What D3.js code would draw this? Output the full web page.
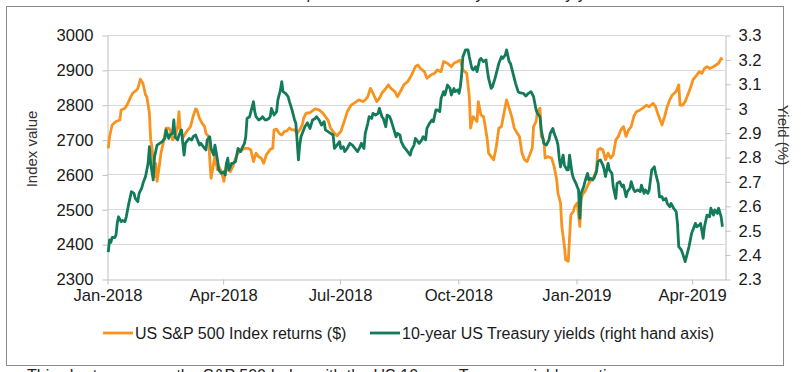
<!DOCTYPE html>
<html>
<head>
<meta charset="utf-8">
<script src="https://cdn.jsdelivr.net/npm/d3@7"></script>
<style>
body { margin: 0; background: #fff; }
svg { display: block; font-family: "Liberation Sans", Arial, sans-serif; }
.grid line { stroke: #d9d9d9; stroke-width: 1; }
.axis path, .axis line { stroke: #bfbfbf; }
.axis text { fill: #1a1a1a; font-size: 16.6px; }
</style>
</head>
<body>
<svg width="801" height="372"></svg>
<script>

// S&P 500 index level
var spData = [
["2018-01-02",2675],["2018-01-03",2709],["2018-01-05",2742],["2018-01-08",2752],["2018-01-11",2756],
["2018-01-12",2785],["2018-01-15",2790],["2018-01-17",2802],["2018-01-19",2819],["2018-01-21",2833],
["2018-01-24",2842],["2018-01-25",2847],["2018-01-27",2873],["2018-01-29",2861],["2018-01-31",2828],
["2018-02-01",2823],["2018-02-03",2776],["2018-02-04",2699],["2018-02-05",2680],["2018-02-07",2594],
["2018-02-08",2632],["2018-02-09",2580],["2018-02-11",2632],["2018-02-12",2661],["2018-02-14",2694],
["2018-02-16",2733],["2018-02-18",2733],["2018-02-19",2728],["2018-02-21",2699],["2018-02-23",2709],
["2018-02-25",2737],["2018-02-26",2780],["2018-02-27",2728],["2018-03-01",2704],["2018-03-03",2718],
["2018-03-05",2728],["2018-03-07",2737],["2018-03-09",2766],["2018-03-11",2788],["2018-03-12",2785],
["2018-03-14",2761],["2018-03-16",2747],["2018-03-18",2737],["2018-03-19",2718],["2018-03-21",2709],
["2018-03-22",2642],["2018-03-23",2589],["2018-03-25",2632],["2018-03-26",2651],["2018-03-28",2613],
["2018-03-29",2623],["2018-03-31",2608],["2018-04-02",2580],["2018-04-04",2632],["2018-04-05",2613],
["2018-04-07",2608],["2018-04-09",2623],["2018-04-11",2647],["2018-04-13",2661],["2018-04-16",2670],
["2018-04-18",2675],["2018-04-21",2675],["2018-04-23",2670],["2018-04-25",2637],["2018-04-27",2661],
["2018-04-29",2651],["2018-05-01",2647],["2018-05-03",2632],["2018-05-05",2656],["2018-05-07",2666],
["2018-05-08",2672],["2018-05-10",2675],["2018-05-11",2728],["2018-05-13",2730],["2018-05-15",2718],
["2018-05-17",2713],["2018-05-19",2723],["2018-05-21",2725],["2018-05-23",2733],["2018-05-25",2728],
["2018-05-27",2728],["2018-05-29",2718],["2018-05-31",2728],["2018-06-02",2742],["2018-06-03",2761],
["2018-06-05",2776],["2018-06-08",2777],["2018-06-12",2788],["2018-06-15",2785],["2018-06-18",2776],
["2018-06-22",2756],["2018-06-24",2733],["2018-06-27",2718],["2018-06-29",2711],["2018-07-02",2723],
["2018-07-05",2756],["2018-07-07",2780],["2018-07-10",2799],["2018-07-13",2806],["2018-07-16",2814],
["2018-07-19",2809],["2018-07-21",2814],["2018-07-23",2823],["2018-07-25",2847],["2018-07-27",2833],
["2018-07-30",2809],["2018-08-01",2818],["2018-08-03",2833],["2018-08-06",2847],["2018-08-08",2857],
["2018-08-10",2847],["2018-08-13",2838],["2018-08-15",2823],["2018-08-18",2842],["2018-08-20",2857],
["2018-08-23",2866],["2018-08-26",2885],["2018-08-29",2909],["2018-08-31",2914],["2018-09-02",2904],
["2018-09-05",2895],["2018-09-07",2876],["2018-09-10",2885],["2018-09-13",2890],["2018-09-15",2900],
["2018-09-18",2895],["2018-09-20",2924],["2018-09-23",2919],["2018-09-26",2909],["2018-09-28",2919],
["2018-10-01",2924],["2018-10-03",2928],["2018-10-05",2900],["2018-10-08",2890],["2018-10-10",2823],
["2018-10-11",2733],["2018-10-13",2766],["2018-10-14",2761],["2018-10-16",2752],["2018-10-17",2809],
["2018-10-19",2771],["2018-10-21",2766],["2018-10-22",2747],["2018-10-24",2699],["2018-10-25",2661],
["2018-10-27",2651],["2018-10-29",2642],["2018-10-31",2680],["2018-11-02",2733],["2018-11-04",2737],
["2018-11-06",2776],["2018-11-08",2814],["2018-11-10",2790],["2018-11-12",2766],["2018-11-14",2733],
["2018-11-16",2720],["2018-11-18",2709],["2018-11-20",2661],["2018-11-22",2642],["2018-11-24",2637],
["2018-11-26",2656],["2018-11-28",2675],["2018-11-29",2737],["2018-12-01",2752],["2018-12-02",2780],
["2018-12-04",2790],["2018-12-05",2709],["2018-12-07",2699],["2018-12-08",2647],["2018-12-10",2651],
["2018-12-13",2647],["2018-12-15",2623],["2018-12-17",2585],["2018-12-18",2546],["2018-12-20",2518],
["2018-12-21",2451],["2018-12-23",2394],["2018-12-24",2355],["2018-12-26",2351],["2018-12-28",2484],
["2018-12-30",2494],["2018-12-31",2508],["2019-01-02",2518],["2019-01-04",2451],["2019-01-05",2527],
["2019-01-06",2542],["2019-01-08",2551],["2019-01-11",2575],["2019-01-13",2585],["2019-01-15",2594],
["2019-01-17",2613],["2019-01-18",2670],["2019-01-20",2675],["2019-01-22",2670],["2019-01-24",2642],
["2019-01-26",2661],["2019-01-28",2647],["2019-01-30",2656],["2019-02-01",2699],["2019-02-03",2709],
["2019-02-05",2728],["2019-02-07",2737],["2019-02-09",2709],["2019-02-11",2728],["2019-02-13",2737],
["2019-02-15",2766],["2019-02-17",2780],["2019-02-20",2785],["2019-02-22",2790],["2019-02-25",2799],
["2019-02-27",2794],["2019-03-02",2804],["2019-03-04",2794],["2019-03-06",2771],["2019-03-08",2752],
["2019-03-09",2742],["2019-03-11",2766],["2019-03-13",2794],["2019-03-15",2814],["2019-03-17",2828],
["2019-03-20",2838],["2019-03-22",2857],["2019-03-23",2799],["2019-03-25",2799],["2019-03-27",2809],
["2019-03-29",2828],["2019-03-31",2847],["2019-04-02",2871],["2019-04-05",2885],["2019-04-07",2895],
["2019-04-09",2890],["2019-04-11",2904],["2019-04-13",2909],["2019-04-15",2904],["2019-04-18",2909],
["2019-04-20",2914],["2019-04-22",2919],["2019-04-24",2933],["2019-04-25",2928]
];

// 10-year treasury yield (%), right hand axis
var tyData = [
["2018-01-02",2.41],["2018-01-03",2.46],["2018-01-04",2.45],["2018-01-05",2.47],["2018-01-07",2.47],
["2018-01-08",2.48],["2018-01-09",2.53],["2018-01-10",2.555],["2018-01-12",2.535],["2018-01-13",2.54],
["2018-01-15",2.535],["2018-01-16",2.555],["2018-01-18",2.61],["2018-01-20",2.658],["2018-01-22",2.651],
["2018-01-23",2.63],["2018-01-25",2.617],["2018-01-26",2.651],["2018-01-28",2.672],["2018-01-29",2.692],
["2018-01-31",2.72],["2018-02-02",2.774],["2018-02-03",2.842],["2018-02-04",2.774],["2018-02-06",2.706],
["2018-02-07",2.801],["2018-02-09",2.849],["2018-02-11",2.856],["2018-02-13",2.863],["2018-02-15",2.876],
["2018-02-16",2.911],["2018-02-18",2.876],["2018-02-19",2.89],["2018-02-21",2.897],["2018-02-22",2.952],
["2018-02-23",2.883],["2018-02-25",2.87],["2018-02-26",2.89],["2018-02-28",2.911],["2018-03-01",2.856],
["2018-03-02",2.808],["2018-03-03",2.856],["2018-03-05",2.87],["2018-03-06",2.876],["2018-03-08",2.87],
["2018-03-09",2.883],["2018-03-11",2.89],["2018-03-12",2.876],["2018-03-14",2.849],["2018-03-15",2.856],
["2018-03-17",2.842],["2018-03-19",2.829],["2018-03-20",2.87],["2018-03-22",2.883],["2018-03-23",2.835],
["2018-03-25",2.808],["2018-03-26",2.849],["2018-03-28",2.788],["2018-03-29",2.747],["2018-03-31",2.733],
["2018-04-02",2.74],["2018-04-03",2.726],["2018-04-04",2.774],["2018-04-05",2.795],["2018-04-06",2.747],
["2018-04-08",2.774],["2018-04-09",2.774],["2018-04-11",2.781],["2018-04-12",2.808],["2018-04-13",2.835],
["2018-04-15",2.822],["2018-04-16",2.835],["2018-04-18",2.856],["2018-04-19",2.883],["2018-04-20",2.958],
["2018-04-22",2.965],["2018-04-23",2.986],["2018-04-25",3.027],["2018-04-26",2.986],["2018-04-27",2.965],
["2018-04-29",2.952],["2018-05-01",2.958],["2018-05-02",2.965],["2018-05-04",2.952],["2018-05-05",2.952],
["2018-05-07",2.958],["2018-05-08",2.965],["2018-05-09",2.999],["2018-05-11",2.972],["2018-05-13",2.986],
["2018-05-14",3.034],["2018-05-16",3.075],["2018-05-17",3.109],["2018-05-18",3.068],["2018-05-20",3.061],
["2018-05-22",3.047],["2018-05-23",3.027],["2018-05-25",2.993],["2018-05-27",2.952],["2018-05-28",2.938],
["2018-05-30",2.788],["2018-05-31",2.849],["2018-06-01",2.883],["2018-06-03",2.911],["2018-06-04",2.924],
["2018-06-06",2.94],["2018-06-08",2.917],["2018-06-10",2.952],["2018-06-12",2.958],["2018-06-13",2.965],
["2018-06-15",2.952],["2018-06-17",2.931],["2018-06-19",2.945],["2018-06-20",2.911],["2018-06-22",2.904],
["2018-06-24",2.897],["2018-06-26",2.89],["2018-06-27",2.835],["2018-06-29",2.849],["2018-07-01",2.863],
["2018-07-02",2.835],["2018-07-04",2.842],["2018-07-05",2.822],["2018-07-07",2.835],["2018-07-09",2.856],
["2018-07-11",2.849],["2018-07-13",2.835],["2018-07-15",2.822],["2018-07-17",2.842],["2018-07-18",2.856],
["2018-07-20",2.835],["2018-07-21",2.897],["2018-07-23",2.938],["2018-07-24",2.965],["2018-07-26",2.958],
["2018-07-27",2.979],["2018-07-29",2.972],["2018-07-31",2.979],["2018-08-01",2.999],["2018-08-03",2.965],
["2018-08-04",2.958],["2018-08-06",2.924],["2018-08-07",2.972],["2018-08-09",2.965],["2018-08-10",2.952],
["2018-08-12",2.917],["2018-08-14",2.883],["2018-08-15",2.897],["2018-08-17",2.89],["2018-08-18",2.863],
["2018-08-20",2.842],["2018-08-22",2.829],["2018-08-25",2.808],["2018-08-26",2.829],["2018-08-28",2.849],
["2018-08-29",2.876],["2018-08-31",2.863],["2018-09-01",2.856],["2018-09-03",2.87],["2018-09-04",2.883],
["2018-09-06",2.87],["2018-09-07",2.917],["2018-09-09",2.938],["2018-09-11",2.952],["2018-09-12",2.945],
["2018-09-14",2.993],["2018-09-15",2.993],["2018-09-17",2.986],["2018-09-18",3.04],["2018-09-20",3.068],
["2018-09-21",3.054],["2018-09-23",3.095],["2018-09-25",3.081],["2018-09-26",3.054],["2018-09-28",3.081],
["2018-09-29",3.068],["2018-10-01",3.075],["2018-10-02",3.061],["2018-10-03",3.088],["2018-10-04",3.136],
["2018-10-05",3.211],["2018-10-07",3.239],["2018-10-09",3.239],["2018-10-10",3.211],["2018-10-12",3.163],
["2018-10-13",3.157],["2018-10-15",3.17],["2018-10-16",3.15],["2018-10-18",3.198],["2018-10-19",3.204],
["2018-10-21",3.191],["2018-10-23",3.198],["2018-10-24",3.157],["2018-10-25",3.122],["2018-10-27",3.081],
["2018-10-28",3.088],["2018-10-30",3.122],["2018-10-31",3.143],["2018-11-02",3.184],["2018-11-04",3.211],
["2018-11-05",3.204],["2018-11-07",3.218],["2018-11-08",3.239],["2018-11-10",3.191],["2018-11-11",3.184],
["2018-11-13",3.143],["2018-11-15",3.102],["2018-11-17",3.068],["2018-11-18",3.064],["2018-11-21",3.061],
["2018-11-23",3.05],["2018-11-25",3.061],["2018-11-27",3.068],["2018-11-29",3.047],["2018-12-01",2.993],
["2018-12-02",2.979],["2018-12-04",2.965],["2018-12-05",2.911],["2018-12-07",2.856],["2018-12-09",2.849],
["2018-12-11",2.87],["2018-12-12",2.897],["2018-12-14",2.917],["2018-12-15",2.897],["2018-12-17",2.87],
["2018-12-18",2.849],["2018-12-19",2.795],["2018-12-20",2.76],["2018-12-22",2.808],["2018-12-23",2.767],
["2018-12-25",2.747],["2018-12-26",2.747],["2018-12-27",2.808],["2018-12-29",2.733],["2018-12-30",2.713],
["2019-01-01",2.692],["2019-01-02",2.678],["2019-01-03",2.665],["2019-01-04",2.549],["2019-01-05",2.651],
["2019-01-07",2.678],["2019-01-08",2.699],["2019-01-10",2.733],["2019-01-11",2.706],["2019-01-12",2.713],
["2019-01-14",2.706],["2019-01-15",2.713],["2019-01-17",2.74],["2019-01-18",2.781],["2019-01-20",2.788],
["2019-01-22",2.767],["2019-01-23",2.747],["2019-01-24",2.72],["2019-01-26",2.774],["2019-01-27",2.747],
["2019-01-29",2.733],["2019-01-30",2.678],["2019-02-01",2.63],["2019-02-02",2.692],["2019-02-04",2.699],
["2019-02-06",2.678],["2019-02-07",2.685],["2019-02-09",2.637],["2019-02-10",2.658],["2019-02-12",2.672],
["2019-02-13",2.699],["2019-02-15",2.665],["2019-02-16",2.658],["2019-02-18",2.665],["2019-02-20",2.658],
["2019-02-21",2.685],["2019-02-23",2.651],["2019-02-24",2.665],["2019-02-26",2.651],["2019-02-27",2.665],
["2019-03-01",2.747],["2019-03-03",2.76],["2019-03-04",2.733],["2019-03-06",2.692],["2019-03-07",2.637],
["2019-03-09",2.637],["2019-03-10",2.624],["2019-03-12",2.63],["2019-03-13",2.61],["2019-03-15",2.596],
["2019-03-16",2.61],["2019-03-18",2.59],["2019-03-20",2.576],["2019-03-21",2.528],["2019-03-22",2.433],
["2019-03-24",2.419],["2019-03-25",2.405],["2019-03-27",2.371],["2019-03-28",2.392],["2019-03-30",2.433],
["2019-04-01",2.487],["2019-04-02",2.501],["2019-04-04",2.528],["2019-04-05",2.514],["2019-04-07",2.521],
["2019-04-08",2.528],["2019-04-10",2.467],["2019-04-11",2.514],["2019-04-13",2.562],["2019-04-15",2.555],
["2019-04-16",2.59],["2019-04-18",2.562],["2019-04-19",2.583],["2019-04-21",2.569],["2019-04-22",2.59],
["2019-04-24",2.555],["2019-04-25",2.514]
];

var leftTicks = [2300, 2400, 2500, 2600, 2700, 2800, 2900, 3000];
var rightTicks = [2.3, 2.4, 2.5, 2.6, 2.7, 2.8, 2.9, 3.0, 3.1, 3.2, 3.3];
var monthTicks = ["2018-01-01", "2018-04-01", "2018-07-01", "2018-10-01", "2019-01-01", "2019-04-01"];
var seriesNames = ["US S&P 500 Index returns ($)", "10-year US Treasury yields (right hand axis)"];
var colors = ["#f7931e", "#137a5a"];

var parse = d3.utcParse("%Y-%m-%d");
var svg = d3.select("svg");

var plotLeft = 107, plotRight = 725, plotTop = 35, plotBottom = 279;

var x = d3.scaleUtc()
	.domain([parse("2018-01-01"), parse("2019-04-27")])
	.range([plotLeft, plotRight]);
var yL = d3.scaleLinear().domain([2300, 3000]).range([plotBottom, plotTop]);
var yR = d3.scaleLinear().domain([2.3, 3.3]).range([plotBottom, plotTop]);

// cut off text above and below the chart frame
svg.append("text")
	.attr("x", 169).attr("y", -0.7)
	.attr("font-size", "16px").attr("fill", "#222")
	.text("US S&P 500 Index performance versus 10-year Treasury yields");
svg.append("text")
	.attr("x", 27).attr("y", 380.5)
	.attr("font-size", "16px").attr("fill", "#222")
	.text("This chart compares the S&P 500 Index with the US 10-year Treasury yield over time");

// chart frame
svg.append("rect")
	.attr("x", 6.5).attr("y", 6.5)
	.attr("width", 777).attr("height", 359)
	.attr("fill", "#fff")
	.attr("stroke", "#8a8a8a");

// gridlines
svg.append("g")
	.attr("class", "grid")
	.selectAll("line")
	.data(leftTicks.slice(1))
	.enter().append("line")
	.attr("x1", plotLeft).attr("x2", plotRight)
	.attr("y1", function(d) { return Math.round(yL(d)) + 0.5; })
	.attr("y2", function(d) { return Math.round(yL(d)) + 0.5; });

// axes
svg.append("g")
	.attr("class", "axis")
	.attr("transform", "translate(" + (plotLeft + 0.5) + ",0.5)")
	.call(d3.axisLeft(yL).tickValues(leftTicks).tickSize(5).tickSizeOuter(0).tickPadding(9)
		.tickFormat(d3.format("d")));

svg.append("g")
	.attr("class", "axis")
	.attr("transform", "translate(" + (plotRight + 0.5) + ",0.5)")
	.call(d3.axisRight(yR).tickValues(rightTicks).tickSize(5).tickSizeOuter(0).tickPadding(8)
		.tickFormat(function(d) { return String(+d.toFixed(1)); }));

svg.append("g")
	.attr("class", "axis")
	.attr("transform", "translate(0.5," + (plotBottom + 0.5) + ")")
	.call(d3.axisBottom(x).tickValues(monthTicks.map(parse)).tickSize(5).tickSizeOuter(0).tickPadding(5)
		.tickFormat(d3.utcFormat("%b-%Y")));

// axis titles
svg.append("text")
	.attr("transform", "translate(37,149) rotate(-90)")
	.attr("text-anchor", "middle")
	.attr("font-size", "15px").attr("fill", "#333")
	.text("Index value");

svg.append("text")
	.attr("transform", "translate(778,135) rotate(90)")
	.attr("text-anchor", "middle")
	.attr("font-size", "15px").attr("fill", "#333")
	.text("Yield (%)");

// lines
var spLine = d3.line()
	.x(function(d) { return x(parse(d[0])); })
	.y(function(d) { return yL(d[1]); });
var tyLine = d3.line()
	.x(function(d) { return x(parse(d[0])); })
	.y(function(d) { return yR(d[1]); });

svg.append("path")
	.datum(spData)
	.attr("fill", "none")
	.attr("stroke", colors[0])
	.attr("stroke-width", 2.8)
	.attr("stroke-linejoin", "round")
	.attr("d", spLine);

svg.append("path")
	.datum(tyData)
	.attr("fill", "none")
	.attr("stroke", colors[1])
	.attr("stroke-width", 2.8)
	.attr("stroke-linejoin", "round")
	.attr("d", tyLine);

// legend
var legendX = [103, 370];
var legend = svg.append("g")
	.selectAll("g")
	.data(seriesNames)
	.enter().append("g")
	.attr("transform", function(d, i) { return "translate(" + legendX[i] + ",333)"; });

legend.append("line")
	.attr("x1", 0).attr("x2", 30)
	.attr("stroke", function(d, i) { return colors[i]; })
	.attr("stroke-width", 2.8);

legend.append("text")
	.attr("x", 32).attr("y", 6)
	.attr("font-size", "16px").attr("fill", "#1a1a1a")
	.text(function(d) { return d; });

</script>
</body>
</html>
